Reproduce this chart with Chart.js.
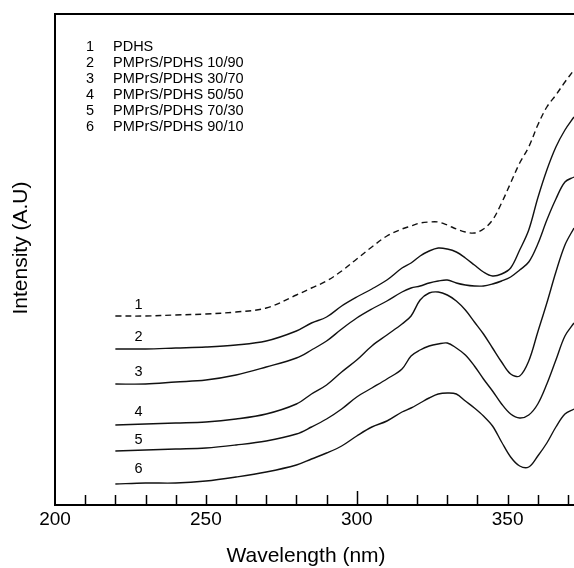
<!DOCTYPE html>
<html>
<head>
<meta charset="utf-8">
<script src="https://cdn.jsdelivr.net/npm/chart.js@4.4.1/dist/chart.umd.min.js"></script>
<style>
  html, body { margin: 0; padding: 0; background: #fff; }
  #wrap { width: 574px; height: 568px; }
</style>
</head>
<body>
<div id="wrap"><canvas id="myChart" width="574" height="568"></canvas></div>
<script>
// wavelength grid (nm)
const wavelength = [220, 230, 240, 250, 260, 270, 280, 285, 290, 295, 300, 305, 310, 315, 318, 321, 324,
  327, 330, 333, 336, 339, 342, 345, 348, 351, 354, 357, 360, 363, 366, 369, 372];

// intensity (A.U.)
const pdhs    = [189, 189, 190, 191, 193, 197, 210, 217, 224, 234, 246, 258, 269, 276, 279, 282, 283,
  283, 280, 276, 273, 272, 276, 285, 302, 322, 342, 358, 380, 398, 410, 423, 435];
const mix1090 = [156, 156, 157, 158, 160, 164, 174, 182, 188, 199, 208, 216, 225, 237, 242, 249, 254,
  257, 256, 253, 247, 240, 233, 229, 231, 237, 255, 275, 307, 335, 358, 375, 388];
const mix3070 = [121, 121, 123, 125, 130, 138, 147, 155, 164, 176, 187, 196, 204, 213, 217, 219, 222,
  224, 225, 222, 220, 219, 219, 221, 224, 228, 235, 243, 261, 285, 306, 323, 328];
const mix5050 = [80, 81, 82, 83, 86, 91, 101, 111, 120, 133, 145, 159, 170, 181, 189, 205, 212,
  213, 210, 204, 195, 183, 171, 157, 143, 131, 129, 144, 173, 202, 233, 260, 277];
const mix7030 = [54, 55, 56, 57, 60, 64, 71, 78, 86, 96, 108, 117, 126, 136, 149, 155, 159,
  161, 162, 157, 150, 139, 126, 114, 101, 91, 87, 90, 101, 121, 145, 169, 182];
const mix9010 = [21, 22, 22, 24, 28, 33, 40, 46, 52, 59, 69, 78, 84, 93, 97, 102, 107,
  111, 112, 111, 104, 97, 89, 79, 63, 48, 39, 38, 49, 62, 78, 91, 96];

const legendNames = ['PDHS', 'PMPrS/PDHS 10/90', 'PMPrS/PDHS 30/70',
  'PMPrS/PDHS 50/50', 'PMPrS/PDHS 70/30', 'PMPrS/PDHS 90/10'];
const curveNumbers = ['1', '2', '3', '4', '5', '6'];
const xTickLabels = [200, 250, 300, 350];
const minorTicks = [210, 220, 230, 240, 250, 260, 270, 280, 290, 300, 310, 320, 330, 340, 350, 360, 370];

const allSeries = [pdhs, mix1090, mix3070, mix5050, mix7030, mix9010];
const FONT = '"Liberation Sans", Arial, Helvetica, sans-serif';

// draws frame, inward ticks, texts
const framePlugin = {
  id: 'frame',
  afterDatasetsDraw(chart) {
    const ctx = chart.ctx;
    const a = chart.chartArea;
    const x = chart.scales.x, y = chart.scales.y;
    ctx.save();
    ctx.strokeStyle = '#000';
    ctx.lineWidth = 2;
    ctx.beginPath();
    ctx.moveTo(a.right + 2, a.top);
    ctx.lineTo(a.left, a.top);
    ctx.lineTo(a.left, a.bottom);
    ctx.lineTo(a.right + 2, a.bottom);
    ctx.stroke();

    ctx.lineWidth = 1.5;
    minorTicks.forEach(t => {
      const px = Math.round(x.getPixelForValue(t)) + 0.5;
      const len = t === 300 ? 14 : 10;
      ctx.beginPath();
      ctx.moveTo(px, a.bottom);
      ctx.lineTo(px, a.bottom - len);
      ctx.stroke();
    });

    ctx.fillStyle = '#000';
    ctx.font = '19px ' + FONT;
    ctx.textAlign = 'center';
    ctx.textBaseline = 'middle';
    xTickLabels.forEach(t => ctx.fillText(String(t), x.getPixelForValue(t), a.bottom + 15));

    ctx.font = '21px ' + FONT;
    ctx.fillText('Wavelength (nm)', 306, 556);
    ctx.save();
    ctx.translate(21, 248);
    ctx.rotate(-Math.PI / 2);
    ctx.fillText('Intensity (A.U)', 0, 0);
    ctx.restore();

    // legend block
    ctx.font = '14.5px ' + FONT;
    ctx.textAlign = 'left';
    legendNames.forEach((n, i) => {
      const ly = 47 + i * 16;
      ctx.fillText(curveNumbers[i], 86, ly);
      ctx.fillText(n, 113, ly);
    });

    // numbers above each curve start
    ctx.textAlign = 'center';
    const labelOffsets = [11, 12, 12, 12, 10, 14];
    allSeries.forEach((s, i) => {
      const px = x.getPixelForValue(228);
      const py = y.getPixelForValue(s[1]) - labelOffsets[i];
      ctx.fillText(curveNumbers[i], px - 1, py);
    });
    ctx.restore();
  }
};

const ctx = document.getElementById('myChart').getContext('2d');
new Chart(ctx, {
  type: 'line',
  data: {
    labels: wavelength,
    datasets: allSeries.map((s, i) => ({
      label: legendNames[i],
      data: s.map((v, j) => ({ x: wavelength[j], y: v })),
      borderColor: '#111',
      borderWidth: 1.4,
      borderDash: i === 0 ? [6, 4] : [],
      pointRadius: 0,
      tension: 0.35,
      fill: false
    }))
  },
  options: {
    responsive: false,
    animation: false,
    layout: { padding: { left: 55, top: 14, right: 0, bottom: 63 } },
    plugins: { legend: { display: false }, tooltip: { enabled: false } },
    scales: {
      x: { type: 'linear', min: 200, max: 372, display: false },
      y: { min: 0, max: 491, display: false }
    }
  },
  plugins: [framePlugin]
});
</script>
</body>
</html>
